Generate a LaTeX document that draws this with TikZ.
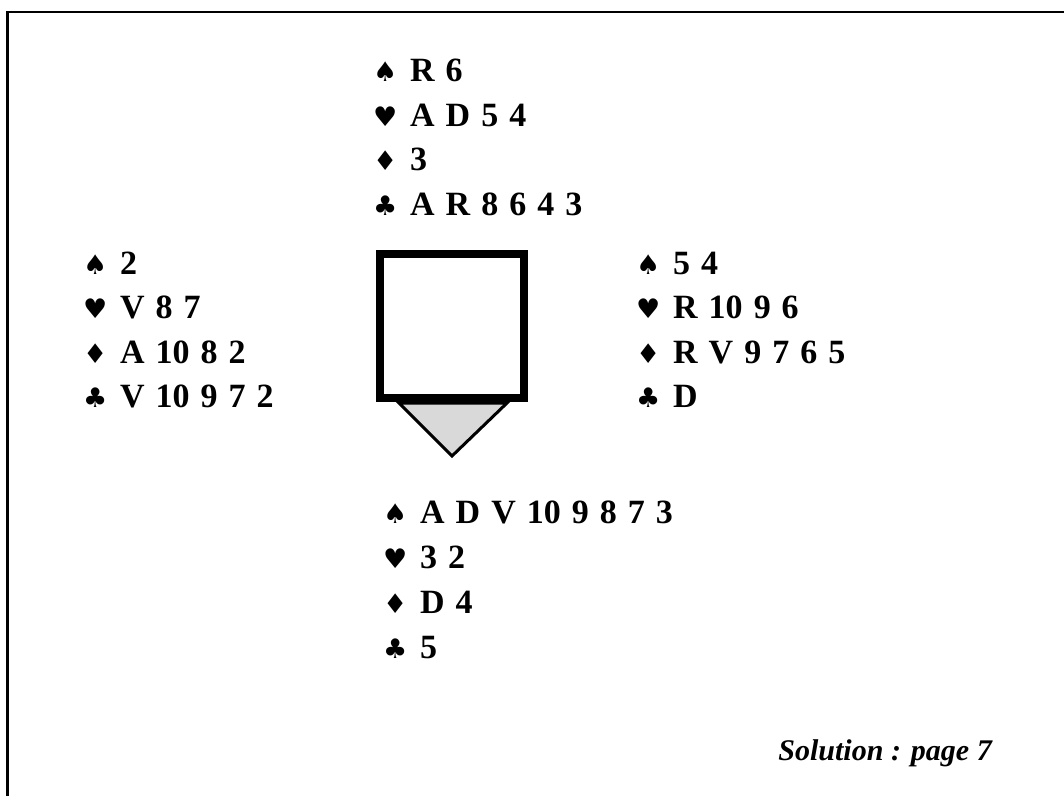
\documentclass[tikz,border=0pt]{standalone}
\usepackage{fontspec}
\setmainfont{Liberation Serif}
\newfontfamily\suitfont{DejaVu Sans}
\newcommand\st[1]{\makebox[35pt][l]{\hspace{-2pt}\suitfont\mdseries\fontsize{27}{27}\selectfont #1}}
\newcommand\handfont{\fontsize{34}{40}\selectfont\bfseries\spaceskip 11pt\relax}
\tikzset{
  handrow/.style={anchor=base west, inner sep=0pt, font=\handfont},
  sol/.style={anchor=base east, inner sep=0pt, font=\fontsize{30}{36}\selectfont\bfseries\itshape},
  tablebox/.style={draw, line width=8pt, minimum size=144pt, inner sep=0pt},
  dealer/.style={draw, line width=3pt, fill=gray!30, line join=miter}
}
\begin{document}
\begin{tikzpicture}[x=1pt,y=-1pt]
\useasboundingbox (0,0) rectangle (1064,796);
% frame
\draw[line width=2.2pt] (7.5,796) -- (7.5,12) -- (1064,12);
% North
\node[handrow] (n1) at (375,81)  {\st{♠}R 6};
\node[handrow] (n2) at (375,126) {\st{♥}A D 5 4};
\node[handrow] (n3) at (375,170) {\st{♦}3};
\node[handrow] (n4) at (375,215) {\st{♣}A R 8 6 4 3};
% West
\node[handrow] (w1) at (85,274) {\st{♠}2};
\node[handrow] (w2) at (85,318.5) {\st{♥}V 8 7};
\node[handrow] (w3) at (85,363) {\st{♦}A 10 8 2};
\node[handrow] (w4) at (85,407.5) {\st{♣}V 10 9 7 2};
% East
\node[handrow] (e1) at (638,274) {\st{♠}5 4};
\node[handrow] (e2) at (638,318.5) {\st{♥}R 10 9 6};
\node[handrow] (e3) at (638,363) {\st{♦}R V 9 7 6 5};
\node[handrow] (e4) at (638,407.5) {\st{♣}D};
% South
\node[handrow] (s1) at (385,523) {\st{♠}A D V 10 9 8 7 3};
\node[handrow] (s2) at (385,568) {\st{♥}3 2};
\node[handrow] (s3) at (385,613) {\st{♦}D 4};
\node[handrow] (s4) at (385,658) {\st{♣}5};
% table and dealer marker
\draw[dealer] (399,403) -- (507,403) -- (452,456) -- cycle;
\node[tablebox] (table) at (452,326) {};
% solution
\node[sol] (solution) at (992,760) {Solution : page 7};
\end{tikzpicture}
\end{document}
